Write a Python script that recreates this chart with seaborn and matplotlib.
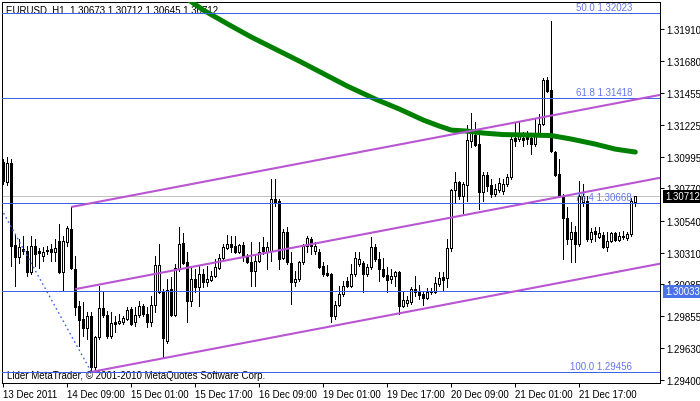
import matplotlib
matplotlib.use("Agg")
import matplotlib.pyplot as plt
import numpy as np
import pandas as pd
import seaborn as sns

# EURUSD H1, one bar per hour, bar 0 = 13 Dec 2011 17:00
opens = [
    1.30959, 1.30816, 1.30952, 1.30364, 1.30279, 1.30336, 1.30322, 1.30172, 1.30357, 1.30322,
    1.30286, 1.30329, 1.30336, 1.30314, 1.30393, 1.30172, 1.30386, 1.30479, 1.30193, 1.29928,
    1.29835, 1.29770, 1.29856, 1.29491, 1.29706, 1.29913, 1.29863, 1.29713, 1.29813, 1.29806,
    1.29813, 1.29835, 1.29906, 1.29813, 1.29863, 1.29928, 1.29871, 1.29813, 1.29935, 1.30028,
    1.30035, 1.29678, 1.30049, 1.29863, 1.30193, 1.30379, 1.30243, 1.29964, 1.30121, 1.30064,
    1.30157, 1.30100, 1.30114, 1.30143, 1.30200, 1.30271, 1.30343, 1.30371, 1.30357, 1.30314,
    1.30364, 1.30279, 1.30243, 1.30178, 1.30250, 1.30350, 1.30314, 1.30322, 1.30694, 1.30680,
    1.30271, 1.30457, 1.30235, 1.30100, 1.30121, 1.30243, 1.30357, 1.30407, 1.30322, 1.30314,
    1.30214, 1.30164, 1.30157, 1.29856, 1.29935, 1.30014, 1.30107, 1.30071, 1.30157, 1.30229,
    1.30235, 1.30157, 1.30207, 1.30350, 1.30264, 1.30193, 1.30150, 1.30121, 1.30143, 1.30172,
    1.29928, 1.29949, 1.29957, 1.30049, 1.30028, 1.30014, 1.29985, 1.30028, 1.30028, 1.30085,
    1.30135, 1.30128, 1.30343, 1.30758, 1.30816, 1.30715, 1.30794, 1.31109, 1.31152, 1.31087,
    1.30744, 1.30865, 1.30794, 1.30729, 1.30758, 1.30751, 1.30801, 1.30851, 1.31130, 1.31123,
    1.31130, 1.31159, 1.31130, 1.31087, 1.31159, 1.31230, 1.31545, 1.31474, 1.31030, 1.30873,
    1.30715, 1.30557, 1.30407, 1.30457, 1.30371, 1.30672, 1.30680, 1.30407, 1.30464, 1.30422,
    1.30436, 1.30350, 1.30393, 1.30450, 1.30400, 1.30422, 1.30414, 1.30443, 1.30673,
]
highs = [
    1.30980, 1.30994, 1.30980, 1.30443, 1.30407, 1.30429, 1.30357, 1.30429, 1.30407, 1.30343,
    1.30350, 1.30357, 1.30371, 1.30407, 1.30514, 1.30429, 1.30500, 1.30637, 1.30286, 1.29964,
    1.29957, 1.29885, 1.29885, 1.29713, 1.30071, 1.30035, 1.29892, 1.29885, 1.29856, 1.29871,
    1.29856, 1.29921, 1.29921, 1.29921, 1.29964, 1.29942, 1.29921, 1.30000, 1.30286, 1.30371,
    1.30049, 1.30121, 1.30135, 1.30229, 1.30493, 1.30450, 1.30314, 1.30214, 1.30193, 1.30214,
    1.30193, 1.30214, 1.30178, 1.30264, 1.30300, 1.30371, 1.30436, 1.30429, 1.30429, 1.30371,
    1.30386, 1.30300, 1.30386, 1.30300, 1.30386, 1.30422, 1.30386, 1.30837, 1.30837, 1.30694,
    1.30479, 1.30493, 1.30314, 1.30178, 1.30250, 1.30371, 1.30429, 1.30422, 1.30386, 1.30336,
    1.30243, 1.30221, 1.30164, 1.29964, 1.30071, 1.30107, 1.30135, 1.30229, 1.30314, 1.30314,
    1.30250, 1.30229, 1.30422, 1.30371, 1.30314, 1.30271, 1.30207, 1.30193, 1.30178, 1.30178,
    1.30035, 1.30000, 1.30064, 1.30143, 1.30078, 1.30035, 1.30057, 1.30057, 1.30135, 1.30172,
    1.30172, 1.30407, 1.30765, 1.30887, 1.30823, 1.30816, 1.31223, 1.31309, 1.31245, 1.31159,
    1.30887, 1.30887, 1.30837, 1.30801, 1.30844, 1.30837, 1.30873, 1.31145, 1.31245, 1.31252,
    1.31173, 1.31180, 1.31159, 1.31266, 1.31302, 1.31559, 1.31567, 1.31968, 1.31037, 1.30980,
    1.30729, 1.30637, 1.30529, 1.30500, 1.30823, 1.30801, 1.30715, 1.30486, 1.30493, 1.30493,
    1.30457, 1.30457, 1.30457, 1.30457, 1.30457, 1.30464, 1.30457, 1.30701, 1.30712,
]
lows = [
    1.30801, 1.30794, 1.30214, 1.30071, 1.30235, 1.30300, 1.30143, 1.30157, 1.30214, 1.30200,
    1.30250, 1.30300, 1.30250, 1.30250, 1.30164, 1.30035, 1.30357, 1.30193, 1.29863, 1.29642,
    1.29713, 1.29692, 1.29456, 1.29463, 1.29692, 1.29849, 1.29699, 1.29699, 1.29742, 1.29799,
    1.29799, 1.29828, 1.29792, 1.29785, 1.29849, 1.29856, 1.29778, 1.29785, 1.29885, 1.30021,
    1.29563, 1.29663, 1.29856, 1.29856, 1.30178, 1.30229, 1.29813, 1.29928, 1.30028, 1.29928,
    1.30064, 1.30071, 1.30107, 1.30135, 1.30193, 1.30257, 1.30336, 1.30314, 1.30307, 1.30307,
    1.30250, 1.30235, 1.30071, 1.30071, 1.30243, 1.30300, 1.30193, 1.30250, 1.30644, 1.30193,
    1.30264, 1.30229, 1.29942, 1.30071, 1.30107, 1.30229, 1.30314, 1.30300, 1.30300, 1.30200,
    1.30143, 1.30143, 1.29813, 1.29835, 1.29928, 1.30000, 1.30064, 1.30064, 1.30143, 1.30214,
    1.30028, 1.30143, 1.30193, 1.30250, 1.30107, 1.30135, 1.30028, 1.30092, 1.30071, 1.29871,
    1.29921, 1.29928, 1.29942, 1.30000, 1.29978, 1.29935, 1.29978, 1.30014, 1.30021, 1.30071,
    1.30035, 1.30064, 1.30322, 1.30672, 1.30694, 1.30593, 1.30680, 1.31066, 1.31073, 1.30622,
    1.30680, 1.30751, 1.30708, 1.30715, 1.30744, 1.30729, 1.30787, 1.30837, 1.31073, 1.31109,
    1.31073, 1.31087, 1.31016, 1.31073, 1.31145, 1.31223, 1.31459, 1.31030, 1.30858, 1.30708,
    1.30264, 1.30371, 1.30243, 1.30243, 1.30357, 1.30644, 1.30393, 1.30386, 1.30393, 1.30414,
    1.30343, 1.30322, 1.30386, 1.30393, 1.30393, 1.30407, 1.30400, 1.30429, 1.30645,
]
closes = [
    1.30823, 1.30952, 1.30357, 1.30279, 1.30350, 1.30322, 1.30172, 1.30357, 1.30300, 1.30307,
    1.30314, 1.30322, 1.30314, 1.30343, 1.30172, 1.30393, 1.30486, 1.30200, 1.29921, 1.29828,
    1.29770, 1.29856, 1.29491, 1.29706, 1.29913, 1.29863, 1.29713, 1.29806, 1.29799, 1.29820,
    1.29842, 1.29899, 1.29799, 1.29863, 1.29928, 1.29871, 1.29813, 1.29935, 1.30221, 1.30221,
    1.29699, 1.30042, 1.29863, 1.30200, 1.30371, 1.30235, 1.29964, 1.30121, 1.30064, 1.30157,
    1.30100, 1.30121, 1.30143, 1.30207, 1.30271, 1.30350, 1.30371, 1.30350, 1.30314, 1.30364,
    1.30286, 1.30243, 1.30178, 1.30250, 1.30314, 1.30322, 1.30350, 1.30694, 1.30672, 1.30264,
    1.30457, 1.30243, 1.30100, 1.30121, 1.30243, 1.30357, 1.30414, 1.30357, 1.30357, 1.30207,
    1.30157, 1.30150, 1.29856, 1.29935, 1.30014, 1.30071, 1.30071, 1.30157, 1.30271, 1.30264,
    1.30157, 1.30207, 1.30350, 1.30264, 1.30193, 1.30143, 1.30114, 1.30143, 1.30172, 1.29928,
    1.29971, 1.29971, 1.30049, 1.30028, 1.30007, 1.29985, 1.30028, 1.30035, 1.30092, 1.30128,
    1.30114, 1.30343, 1.30758, 1.30816, 1.30715, 1.30801, 1.31116, 1.31188, 1.31080, 1.30744,
    1.30865, 1.30787, 1.30729, 1.30765, 1.30808, 1.30801, 1.30851, 1.31123, 1.31109, 1.31159,
    1.31116, 1.31123, 1.31087, 1.31159, 1.31230, 1.31545, 1.31466, 1.31037, 1.30865, 1.30715,
    1.30557, 1.30407, 1.30457, 1.30371, 1.30715, 1.30715, 1.30407, 1.30457, 1.30443, 1.30450,
    1.30350, 1.30393, 1.30450, 1.30400, 1.30429, 1.30429, 1.30443, 1.30680, 1.30712,
]

# moving average, read at selected bars
ma_bars = [45, 50, 57, 62, 74, 86, 93, 99, 105, 109, 112, 116, 120, 125, 131, 137, 142, 148, 153, 158]
ma_values = [1.32146, 1.32046, 1.31932, 1.31853, 1.31681, 1.31502, 1.31409, 1.31338, 1.31259, 1.31216,
             1.31187, 1.31180, 1.31166, 1.31155, 1.31152, 1.31148, 1.31123, 1.31087, 1.31051, 1.31030]

fibo_levels = ["50.0", "61.8", "76.4", "100.0"]
fibo_prices = [1.32023, 1.31418, 1.30668, 1.29456]
fibo_trend_bars = [-77, 22]
fibo_trend_prices = [1.34590, 1.29456]
hline_price = 1.30033
bid_price = 1.30712

channel_start_bars = [17, 18, 22]
channel_start_prices = [1.30637, 1.30049, 1.29456]
channel_slope = 0.0000545  # price per bar

y_ticks = [1.29400, 1.29630, 1.29855, 1.30085, 1.30310, 1.30540,
           1.30770, 1.30995, 1.31225, 1.31455, 1.31680, 1.31910]
x_tick_bars = [0, 16, 32, 48, 64, 80, 96, 112, 128, 144]
x_tick_labels = ["13 Dec 2011", "14 Dec 09:00", "15 Dec 01:00", "15 Dec 17:00", "16 Dec 09:00",
                 "19 Dec 01:00", "19 Dec 17:00", "20 Dec 09:00", "21 Dec 01:00", "21 Dec 17:00"]

title = "EURUSD..H1  1.30673 1.30712 1.30645 1.30712"
footer = "Lider MetaTrader, \u00a9 2001-2010 MetaQuotes Software Corp."

sns.set_theme(style="white")
plt.rcParams["font.family"] = ["Liberation Sans", "DejaVu Sans"]

BLUE = "#3a64e8"
FIBO_TXT = "#6677ee"
PURPLE = "#b955d2"
FS = 7
PX = 0.72  # one pixel in points

df = pd.DataFrame({"open": opens, "high": highs, "low": lows, "close": closes})
df["bar"] = np.arange(len(df))
df["bottom"] = df[["open", "close"]].min(axis=1)
df["height"] = (df["close"] - df["open"]).abs().clip(lower=0.000005)
df["face"] = np.where(df["close"] >= df["open"], "white", "black")

fig = plt.figure(figsize=(7.0, 4.02), dpi=100, facecolor="white")
ax = fig.add_axes([2 / 700, 18 / 402, 658 / 700, 381 / 402])
ax.set_facecolor("white")

x_min, x_max = -0.325, 164.175
ax.set_xlim(x_min, x_max)
ax.set_ylim(1.29377, 1.32104)

# candles
ax.vlines(df["bar"], df["low"], df["high"], color="black", linewidth=PX, zorder=2, antialiased=False)
ax.bar(df["bar"], df["height"], bottom=df["bottom"], width=0.45, color=df["face"],
       edgecolor="black", linewidth=PX, zorder=3, antialiased=False)

# moving average
sns.lineplot(x=ma_bars, y=ma_values, color="#008000", linewidth=3.6, ax=ax, sort=False,
             zorder=4, legend=False)

# horizontal levels
ax.axhline(bid_price, color="#c0c0c0", linewidth=PX, zorder=1, antialiased=False)
ax.axhline(hline_price, color=BLUE, linewidth=PX, zorder=5, antialiased=False)
for lvl, price in zip(fibo_levels, fibo_prices):
    ax.axhline(price, color=BLUE, linewidth=PX, zorder=5, antialiased=False)
    ax.annotate(f"{lvl} {price:.5f}", xy=(157.2, price), xytext=(0, 0.6), textcoords="offset points",
                ha="right", va="bottom", color=FIBO_TXT, fontsize=FS, zorder=6)
ax.plot(fibo_trend_bars, fibo_trend_prices, color=BLUE, linewidth=1.0,
        linestyle=(0, (1.2, 2.2)), zorder=5)

# channel
for b0, p0 in zip(channel_start_bars, channel_start_prices):
    ax.plot([b0, x_max], [p0, p0 + channel_slope * (x_max - b0)], color=PURPLE,
            linewidth=1.5, zorder=5, solid_capstyle="butt")

# axes styling
for s in ax.spines.values():
    s.set_color("black")
    s.set_linewidth(PX)
    s.set_antialiased(False)
ax.yaxis.tick_right()
ax.set_yticks(y_ticks)
ax.set_yticklabels([f"{v:.5f}" for v in y_ticks])
ax.set_xticks(x_tick_bars)
ax.set_xticklabels(x_tick_labels)
for lbl in ax.get_xticklabels():
    lbl.set_ha("left")
ax.tick_params(axis="y", which="both", right=True, left=False, direction="out", length=3,
               width=PX, pad=1.5, labelsize=FS, colors="black")
ax.tick_params(axis="x", which="both", bottom=True, direction="out", length=3,
               width=PX, pad=1.5, labelsize=FS, colors="black")
ax.grid(False)

# price boxes on the axis
for price, bg in [(bid_price, "black"), (hline_price, "#4a72e8")]:
    ax.annotate(f"{price:.5f}", xy=(1.0, price), xycoords=("axes fraction", "data"),
                xytext=(3.5, 0), textcoords="offset points", ha="left", va="center",
                color="white", fontsize=FS, annotation_clip=False, zorder=10,
                bbox=dict(boxstyle="square,pad=0.15", fc=bg, ec="none"))

ax.text(4 / 658, 1 - 8 / 381, title, transform=ax.transAxes, ha="left", va="center",
        fontsize=FS, color="black", zorder=1)
ax.text(5 / 658, 7.5 / 381, footer, transform=ax.transAxes, ha="left", va="center",
        fontsize=FS, color="black", zorder=1)

fig.savefig("out.png", dpi=100, facecolor="white")
